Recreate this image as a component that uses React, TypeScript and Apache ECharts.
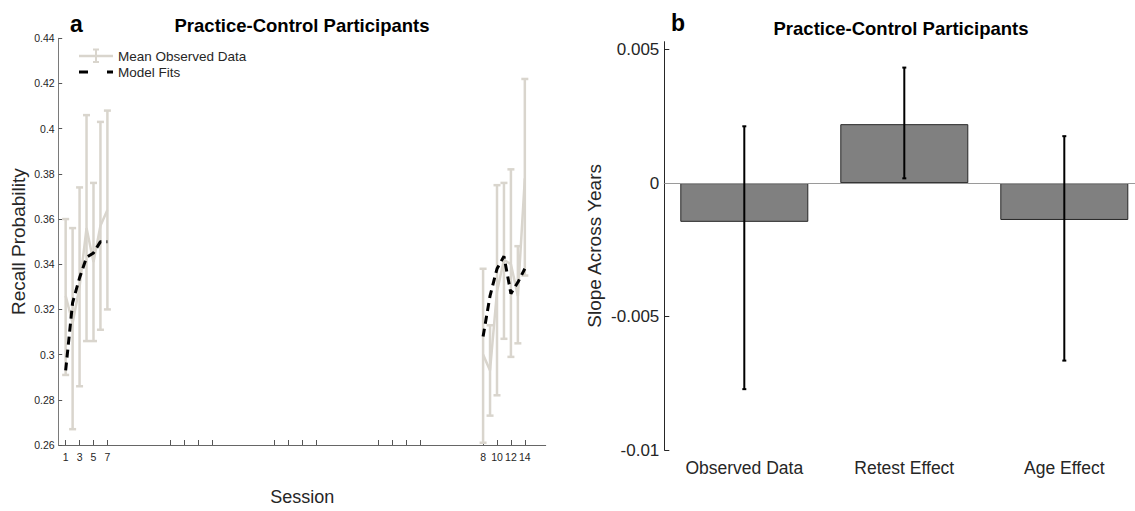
import React, { useEffect, useRef } from 'react';
import * as echarts from 'echarts';

// ---------- Panel a data ----------
const sessionNames = ['1', '2', '3', '4', '5', '6', '7', '8', '9', '10', '11', '12', '13', '14'];
// position of each session on the (time-spaced) session axis
const sessionX = [1, 2, 3, 4, 5, 6, 7, 61, 62, 63, 64, 65, 66, 67];
const observedMean = [0.326, 0.314, 0.330, 0.356, 0.341, 0.357, 0.364, 0.300, 0.293, 0.328, 0.342, 0.340, 0.326, 0.378];
const observedLower = [0.291, 0.267, 0.286, 0.306, 0.306, 0.311, 0.320, 0.261, 0.273, 0.282, 0.307, 0.299, 0.305, 0.335];
const observedUpper = [0.360, 0.356, 0.374, 0.406, 0.376, 0.403, 0.408, 0.338, 0.313, 0.375, 0.376, 0.382, 0.348, 0.422];
const modelFit = [0.293, 0.323, 0.334, 0.343, 0.345, 0.350, 0.350, 0.308, 0.326, 0.338, 0.3435, 0.327, 0.332, 0.338];
const sessionTickX = [1, 3, 5, 7, 16, 18, 20, 22, 31, 33, 35, 37, 46, 48, 50, 52, 61, 63, 65, 67];
const sessionLabelX = [1, 3, 5, 7, 61, 63, 65, 67];
const sessionTickLabels = ['1', '3', '5', '7', '8', '10', '12', '14'];
const recallTicks = [0.26, 0.28, 0.3, 0.32, 0.34, 0.36, 0.38, 0.4, 0.42, 0.44];

// ---------- Panel b data ----------
const effectCategories = ['Observed Data', 'Retest Effect', 'Age Effect'];
const slopeValues = [-0.00145, 0.00221, -0.00138];
const slopeLower = [-0.00772, 0.00018, -0.00665];
const slopeUpper = [0.00213, 0.00433, 0.00176];
const slopeTicks = [-0.01, -0.005, 0, 0.005];

const FONT = '"Liberation Sans", Arial, Helvetica, sans-serif';
const GREY = '#d9d5cd';
const TEXT = '#262626';

function splitGroups(xs: number[], ys: number[]) {
  const groups: number[][][] = [];
  let cur: number[][] = [];
  xs.forEach((x, i) => {
    if (i > 0 && x - xs[i - 1] > 1) {
      groups.push(cur);
      cur = [];
    }
    cur.push([x, ys[i]]);
  });
  groups.push(cur);
  return groups;
}

function errorBarRender(color: string, lw: number, hw: number) {
  return (params: any, api: any) => {
    const x = api.value(0);
    const lo = api.coord([x, api.value(1)]);
    const hi = api.coord([x, api.value(2)]);
    const style = { stroke: color, lineWidth: lw, fill: 'none' };
    return {
      type: 'group',
      children: [
        { type: 'line', shape: { x1: lo[0], y1: lo[1], x2: hi[0], y2: hi[1] }, style },
        { type: 'line', shape: { x1: lo[0] - hw, y1: lo[1], x2: lo[0] + hw, y2: lo[1] }, style },
        { type: 'line', shape: { x1: hi[0] - hw, y1: hi[1], x2: hi[0] + hw, y2: hi[1] }, style },
      ],
    };
  };
}

export default function App() {
  const ref = useRef<HTMLDivElement>(null);

  useEffect(() => {
    if (!ref.current) return;
    const chart = echarts.init(ref.current, null, { renderer: 'svg' });

    const meanGroups = splitGroups(sessionX, observedMean);
    const fitGroups = splitGroups(sessionX, modelFit);

    const series: any[] = [
      {
        type: 'custom',
        name: 'Mean Observed Data (error)',
        xAxisIndex: 0,
        yAxisIndex: 0,
        renderItem: errorBarRender(GREY, 2.5, 3.5),
        encode: { x: 0, y: [1, 2] },
        data: sessionX.map((x, i) => [x, observedLower[i], observedUpper[i], sessionNames[i]]),
        z: 1,
        silent: true,
      },
      ...meanGroups.map((g) => ({
        type: 'line',
        name: 'Mean Observed Data',
        xAxisIndex: 0,
        yAxisIndex: 0,
        data: g,
        showSymbol: false,
        lineStyle: { color: GREY, width: 2.5 },
        z: 2,
        silent: true,
      })),
      ...fitGroups.map((g) => ({
        type: 'line',
        name: 'Model Fits',
        xAxisIndex: 0,
        yAxisIndex: 0,
        data: g,
        showSymbol: false,
        lineStyle: { color: '#000', width: 3, type: [8, 5], cap: 'butt' },
        z: 3,
        silent: true,
      })),
      {
        type: 'bar',
        name: 'Slope',
        xAxisIndex: 1,
        yAxisIndex: 1,
        data: slopeValues,
        barWidth: '80%',
        itemStyle: { color: '#808080', borderColor: '#262626', borderWidth: 1 },
        markLine: {
          silent: true,
          symbol: ['none', 'none'],
          label: { show: false },
          lineStyle: { color: '#9a9a9a', width: 1, type: 'solid' },
          data: [{ yAxis: 0 }],
        },
        silent: true,
        z: 2,
      },
      {
        type: 'custom',
        name: 'Slope error',
        xAxisIndex: 1,
        yAxisIndex: 1,
        renderItem: errorBarRender('#000', 2, 2),
        encode: { x: 0, y: [1, 2] },
        data: effectCategories.map((c, i) => [i, slopeLower[i], slopeUpper[i]]),
        z: 5,
        silent: true,
      },
    ];

    chart.setOption({
      animation: false,
      textStyle: { fontFamily: FONT },
      grid: [
        { left: 58.7, top: 38.3, width: 487, height: 412.5, containLabel: false },
        { left: 664.3, top: 41.7, width: 480, height: 408.3, containLabel: false },
      ],
      xAxis: [
        {
          type: 'value',
          gridIndex: 0,
          min: 0,
          max: 70,
          name: 'Session',
          nameLocation: 'middle',
          nameGap: 43,
          nameTextStyle: { fontSize: 18, color: TEXT, fontFamily: FONT },
          axisLine: { lineStyle: { color: '#666', width: 1 } },
          axisTick: { inside: true, length: 5, customValues: sessionTickX, lineStyle: { color: '#555' } },
          axisLabel: {
            customValues: sessionLabelX,
            formatter: (v: number) => {
              const k = sessionLabelX.indexOf(v);
              return k >= 0 ? sessionTickLabels[k] : '';
            },
            fontSize: 10.5,
            color: TEXT,
            margin: 6,
            fontFamily: FONT,
          },
          splitLine: { show: false },
        },
        {
          type: 'category',
          gridIndex: 1,
          data: effectCategories,
          axisLine: { lineStyle: { color: TEXT, width: 1 } },
          axisTick: { inside: true, length: 5, alignWithLabel: true, lineStyle: { color: TEXT } },
          axisLabel: { fontSize: 17.5, color: TEXT, margin: 9, fontFamily: FONT },
          splitLine: { show: false },
        },
      ],
      yAxis: [
        {
          type: 'value',
          gridIndex: 0,
          min: 0.26,
          max: 0.44,
          name: 'Recall Probability',
          nameLocation: 'middle',
          nameRotate: 90,
          nameGap: 31,
          nameTextStyle: { fontSize: 19, color: TEXT, fontFamily: FONT },
          axisLine: { show: true, lineStyle: { color: '#7a7a7a', width: 1 } },
          axisTick: { show: true, inside: true, length: 3.5, customValues: recallTicks, lineStyle: { color: '#555' } },
          axisLabel: {
            customValues: recallTicks,
            formatter: (v: number) => String(Math.round(v * 1000) / 1000),
            fontSize: 10.5,
            color: TEXT,
            margin: 4,
            fontFamily: FONT,
          },
          splitLine: { show: false },
        },
        {
          type: 'value',
          gridIndex: 1,
          min: -0.01,
          max: 0.0053,
          name: 'Slope Across Years',
          nameLocation: 'middle',
          nameRotate: 90,
          nameGap: 60,
          nameTextStyle: { fontSize: 19, color: TEXT, fontFamily: FONT },
          axisLine: { show: true, lineStyle: { color: TEXT, width: 1 } },
          axisTick: { show: true, inside: true, length: 5, customValues: slopeTicks, lineStyle: { color: TEXT } },
          axisLabel: {
            customValues: slopeTicks,
            formatter: (v: number) => String(Math.round(v * 100000) / 100000),
            fontSize: 17,
            color: TEXT,
            margin: 5,
            fontFamily: FONT,
          },
          splitLine: { show: false },
        },
      ],
      graphic: [
        { type: 'text', x: 70, y: 24, style: { text: 'a', font: `bold 23px ${FONT}`, fill: '#000', align: 'left', verticalAlign: 'middle' } },
        { type: 'text', x: 302, y: 25, style: { text: 'Practice-Control Participants', font: `bold 18.5px ${FONT}`, fill: '#000', align: 'center', verticalAlign: 'middle' } },
        { type: 'text', x: 671, y: 23, style: { text: 'b', font: `bold 23px ${FONT}`, fill: '#000', align: 'left', verticalAlign: 'middle' } },
        { type: 'text', x: 901, y: 28, style: { text: 'Practice-Control Participants', font: `bold 18.5px ${FONT}`, fill: '#000', align: 'center', verticalAlign: 'middle' } },
        // legend (panel a)
        { type: 'line', shape: { x1: 79, y1: 56, x2: 113, y2: 56 }, style: { stroke: GREY, lineWidth: 2.5 } },
        { type: 'line', shape: { x1: 96, y1: 49.5, x2: 96, y2: 62 }, style: { stroke: GREY, lineWidth: 2 } },
        { type: 'line', shape: { x1: 93, y1: 49.5, x2: 99, y2: 49.5 }, style: { stroke: GREY, lineWidth: 2 } },
        { type: 'line', shape: { x1: 93, y1: 62, x2: 99, y2: 62 }, style: { stroke: GREY, lineWidth: 2 } },
        { type: 'text', x: 118, y: 56, style: { text: 'Mean Observed Data', font: `13.5px ${FONT}`, fill: TEXT, align: 'left', verticalAlign: 'middle' } },
        { type: 'line', shape: { x1: 79, y1: 72, x2: 113, y2: 72 }, style: { stroke: '#000', lineWidth: 3, lineDash: [9, 19] } },
        { type: 'text', x: 118, y: 72, style: { text: 'Model Fits', font: `13.5px ${FONT}`, fill: TEXT, align: 'left', verticalAlign: 'middle' } },
      ],
      series,
    });

    return () => chart.dispose();
  }, []);

  return (
    <div
      style={{ position: 'absolute', left: 0, top: 0, width: 1135, height: 511, overflow: 'hidden', background: '#fff' }}
    >
      <div ref={ref} style={{ width: 1160, height: 511 }} />
    </div>
  );
}
